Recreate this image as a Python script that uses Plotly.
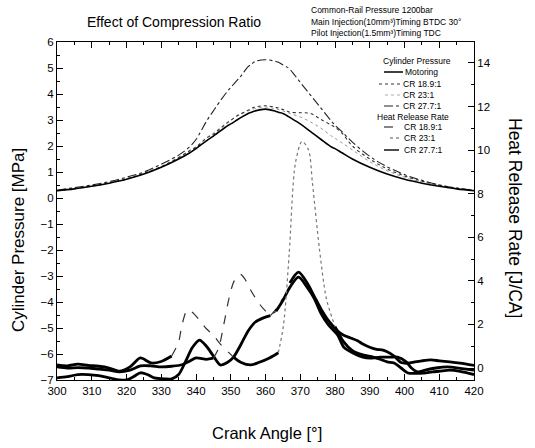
import plotly.graph_objects as go

# ---------------- data ----------------
cp_angle = [300, 305, 310, 315, 320, 325, 330, 335, 338, 340, 343, 345, 346, 349.3, 350, 352, 353, 355, 356, 357,
            360, 363, 364, 365, 366, 367, 370, 373, 376, 379, 380, 382, 385, 390, 395, 400, 405, 410, 415, 420]
cp_motoring = [0.28, 0.35, 0.45, 0.57, 0.72, 0.92, 1.18, 1.5, 1.72, 1.9, 2.2, 2.38, 2.48, 2.8, 2.85, 3.02, 3.1, 3.25, 3.3, 3.35,
               3.42, 3.33, 3.29, 3.25, 3.18, 3.1, 2.85, 2.55, 2.25, 1.96, 1.9, 1.74, 1.5, 1.18, 0.92, 0.72, 0.57, 0.45, 0.35, 0.28]
cp_cr189 = [0.28, 0.36, 0.46, 0.58, 0.73, 0.94, 1.2, 1.55, 1.8, 1.95, 2.3, 2.45, 2.56, 2.92, 2.98, 3.18, 3.25, 3.38, 3.45, 3.5,
            3.55, 3.48, 3.45, 3.4, 3.35, 3.3, 3.28, 3.25, 3.02, 2.8, 2.72, 2.5, 2.0, 1.5, 1.12, 0.85, 0.65, 0.5, 0.38, 0.3]
cp_cr231 = [0.3, 0.37, 0.47, 0.59, 0.75, 0.96, 1.22, 1.57, 1.82, 1.98, 2.32, 2.5, 2.6, 2.94, 3.0, 3.16, 3.22, 3.35, 3.4, 3.44,
            3.5, 3.42, 3.39, 3.35, 3.3, 3.25, 3.12, 2.92, 2.68, 2.38, 2.3, 2.12, 1.85, 1.4, 1.05, 0.8, 0.62, 0.48, 0.37, 0.3]
cp_cr277 = [0.3, 0.4, 0.5, 0.63, 0.8, 1.0, 1.3, 1.65, 1.95, 2.25, 2.95, 3.35, 3.55, 4.15, 4.25, 4.55, 4.7, 5.05, 5.15, 5.25,
            5.32, 5.25, 5.2, 5.12, 5.05, 4.95, 4.45, 3.95, 3.45, 2.95, 2.8, 2.55, 2.15, 1.6, 1.2, 0.9, 0.68, 0.5, 0.38, 0.3]

hrr277_angle = [300, 303, 306, 309, 312, 315, 318, 320, 322, 324, 326, 328, 331, 333, 335, 337, 339, 341, 343, 345,
                347, 349, 350.8, 353, 355, 357, 359.4, 361.4, 363, 365, 367, 369.5, 372, 374, 376, 378, 380.8, 382.5,
                384.5, 386.5, 388, 390, 392, 393.5, 395, 397, 399, 401, 403, 405, 407.6, 410, 413, 416, 420]
hrr277 = [-0.45, -0.4, -0.3, -0.3, -0.35, -0.45, -0.55, -0.55, -0.4, -0.22, -0.3, -0.45, -0.5, -0.5, -0.3, 0.3,
          0.95, 1.28, 1.0, 0.55, 0.14, 0.25, 0.5, 1.1, 1.7, 2.1, 2.3, 2.4, 2.7, 3.2, 3.9, 4.4, 3.9, 3.3, 2.7, 2.2,
          1.7, 1.5, 1.38, 1.25, 1.1, 0.95, 0.85, 0.83, 0.75, 0.55, 0.25, 0.22, 0.28, 0.33, 0.37, 0.33, 0.28, 0.22, 0.12]

hrr189_angle = [300, 303, 306, 309, 312, 315, 318, 321, 324, 327, 330, 333, 336, 338, 340, 343, 345, 346.5, 348,
                349.5, 351, 352.8, 354, 356, 358, 359.5, 361.4, 363, 365, 367, 369.5, 372, 374, 376, 378, 380.8,
                382.5, 385, 388, 390, 393, 396, 398, 400.5, 402, 403.8, 406, 409, 412.5, 416, 420]
hrr189 = [0.05, 0.0, 0.02, 0.0, -0.05, -0.1, -0.18, -0.1, 0.1, 0.1, 0.05, 0.08, 0.15, 0.3, 0.46, 0.4, 0.45, 0.9,
          2.0, 3.2, 4.0, 4.3, 4.1, 3.5, 3.0, 2.7, 2.45, 2.6, 3.1, 3.7, 4.17, 3.7, 3.2, 2.5, 2.0, 1.5, 0.96, 0.7, 0.5,
          0.45, 0.5, 0.5, 0.5, 0.28, 0.0, -0.18, -0.1, 0.0, 0.05, -0.02, -0.1]

hrr231_angle = [300, 303, 306, 309, 312, 315, 318, 321, 324, 327, 330, 333, 335, 336, 337.5, 339, 341, 343, 345,
                347, 349.3, 350.8, 353, 355.7, 358, 361, 363.7, 365.2, 366.8, 368.6, 370.5, 372.4, 373.5, 375.5,
                377.5, 380, 382.5, 385, 388, 391, 393, 395, 397, 399, 401, 403, 405.6, 408, 410, 413, 416, 420]
hrr231 = [0.14, 0.1, 0.18, 0.12, 0.08, 0.0, -0.15, 0.05, 0.46, 0.23, 0.3, 0.55, 1.2, 2.0, 2.66, 2.55, 2.2, 1.8, 1.5,
          1.1, 0.73, 0.5, 0.25, 0.14, 0.25, 0.45, 0.7, 2.0, 5.2, 9.4, 10.4, 10.0, 8.5, 5.5, 3.2, 1.9, 1.2, 0.8, 0.6,
          0.5, 0.4, 0.28, 0.23, 0.0, -0.23, -0.25, -0.23, -0.18, -0.15, -0.1, -0.15, -0.3]

x_ticks = list(range(300, 421, 10))

# ---------------- styling helpers ----------------
W, H = 535, 448
L, R, T, B = 57, 474, 42, 380
FONT = "Liberation Sans, Arial, sans-serif"


def pxx(x):
    return (x - L) / (R - L)


def pyy(y):
    return (B - y) / (B - T)


fig = go.Figure()

# cylinder pressure curves (left axis)
fig.add_trace(go.Scatter(x=cp_angle, y=cp_cr231, mode="lines", yaxis="y",
                         line=dict(color="#9a9a9a", width=1, dash="dot", shape="spline"), showlegend=False))
fig.add_trace(go.Scatter(x=cp_angle, y=cp_cr189, mode="lines", yaxis="y",
                         line=dict(color="#333", width=1.1, dash="dot", shape="spline"), showlegend=False))
fig.add_trace(go.Scatter(x=cp_angle, y=cp_cr277, mode="lines", yaxis="y",
                         line=dict(color="#222", width=1.1, dash="dashdot", shape="spline"), showlegend=False))
fig.add_trace(go.Scatter(x=cp_angle, y=cp_motoring, mode="lines", yaxis="y",
                         line=dict(color="black", width=1.6, shape="spline"), showlegend=False))


def add_hrr(angles, vals, thin_ranges):
    def inside(a):
        return any(s < a < e for s, e, _, _ in thin_ranges)
    thick_y = [None if inside(a) else v for a, v in zip(angles, vals)]
    fig.add_trace(go.Scatter(x=angles, y=thick_y, mode="lines", yaxis="y2", connectgaps=False,
                             line=dict(color="black", width=2.8, shape="spline", smoothing=0.8),
                             showlegend=False))
    for s, e, d, c in thin_ranges:
        xs = [a for a in angles if s <= a <= e]
        ys = [v for a, v in zip(angles, vals) if s <= a <= e]
        fig.add_trace(go.Scatter(x=xs, y=ys, mode="lines", yaxis="y2",
                                 line=dict(color=c, width=1.2, dash=d, shape="spline", smoothing=0.8),
                                 showlegend=False))


add_hrr(hrr277_angle, hrr277, [(361.4, 366, "dash", "#333")])
add_hrr(hrr189_angle, hrr189, [(345, 363, "dash", "#333")])
add_hrr(hrr231_angle, hrr231, [(333, 350.8, "dash", "#333"), (363.7, 380, "dot", "#777")])

# ---------------- manual legend ----------------
shapes = []
annotations = []


def leg_text(x, y, text, size=8.5):
    annotations.append(dict(x=pxx(x), y=pyy(y), xref="paper", yref="paper", text=text, showarrow=False,
                            xanchor="left", yanchor="middle", borderpad=0,
                            font=dict(family=FONT, size=size, color="black")))


def leg_line(x0, x1, y, dash, width=1.2, color="black"):
    shapes.append(dict(type="line", xref="paper", yref="paper", x0=pxx(x0), x1=pxx(x1), y0=pyy(y), y1=pyy(y),
                       line=dict(color=color, width=width, dash=dash)))


leg_text(382, 61, "Cylinder Pressure")
leg_line(384, 403, 72, "solid", 1.5)
leg_text(404, 72, "Motoring")
leg_line(379, 401, 84, "dot", 1.1, "#333")
leg_text(402, 84, "CR 18.9:1")
leg_line(385, 401, 95, "dot", 1.0, "#aaa")
leg_text(402, 95, "CR 23:1")
leg_line(384, 401, 106, "dashdot", 1.1, "#222")
leg_text(402, 106, "CR 27.7:1")
leg_text(376, 117, "Heat Release Rate")
leg_line(384, 402, 127, "dash", 1.2, "#333")
leg_text(403, 127, "CR 18.9:1")
leg_line(390, 402, 138, "dot", 1.2, "#555")
leg_text(403, 138, "CR 23:1")
leg_line(384, 402, 150, "longdash", 1.4, "black")
leg_text(403, 150, "CR 27.7:1")

# titles / notes
annotations.append(dict(x=pxx(86), y=pyy(22), xref="paper", yref="paper", text="Effect of Compression Ratio",
                        showarrow=False, xanchor="left", yanchor="middle", borderpad=0,
                        font=dict(family=FONT, size=14, color="black")))
for i, t in enumerate(["Common-Rail Pressure 1200bar",
                       "Main Injection(10mm³)Timing BTDC 30°",
                       "Pilot Injection(1.5mm³)Timing TDC"]):
    annotations.append(dict(x=pxx(310), y=pyy(10 + 11.5 * i), xref="paper", yref="paper", text=t,
                            showarrow=False, xanchor="left", yanchor="middle", borderpad=0,
                            font=dict(family=FONT, size=8.5, color="black")))
annotations.append(dict(x=pxx(18), y=pyy(240), xref="paper", yref="paper", text="Cylinder Pressure [MPa]",
                        showarrow=False, textangle=-90, xanchor="center", yanchor="middle",
                        font=dict(family=FONT, size=17, color="black")))
annotations.append(dict(x=pxx(515), y=pyy(218), xref="paper", yref="paper", text="Heat Release Rate [J/CA]",
                        showarrow=False, textangle=90, xanchor="center", yanchor="middle",
                        font=dict(family=FONT, size=17.5, color="black")))
annotations.append(dict(x=pxx(267), y=pyy(433), xref="paper", yref="paper", text="Crank Angle [°]",
                        showarrow=False, xanchor="center", yanchor="middle",
                        font=dict(family=FONT, size=16.5, color="black")))

axis_common = dict(showline=True, linecolor="black", linewidth=1, ticks="inside", tickcolor="black",
                   showgrid=False, zeroline=False, automargin=False,
                   tickfont=dict(family=FONT, size=11.5, color="black"))

fig.update_layout(
    width=W, height=H,
    margin=dict(l=L, r=W - R, t=T, b=H - B),
    paper_bgcolor="white", plot_bgcolor="white",
    showlegend=False,
    font=dict(family=FONT, color="black"),
    xaxis=dict(range=[300, 420], tickvals=x_ticks, ticklen=6, mirror="ticks",
               minor=dict(ticks="inside", dtick=5, ticklen=3, tickcolor="black"),
               **axis_common),
    yaxis=dict(range=[-7, 6], dtick=1, ticklen=6,
               minor=dict(ticks="inside", dtick=0.5, ticklen=3, tickcolor="black"),
               **axis_common),
    yaxis2=dict(range=[-0.551, 14.963], overlaying="y", side="right", tickvals=list(range(0, 15, 2)), ticklen=6,
                minor=dict(ticks="inside", dtick=1, ticklen=3, tickcolor="black"),
                **axis_common),
    shapes=shapes,
    annotations=annotations,
)

fig.write_html("out.html", config={"displayModeBar": False},
               post_script="document.body.style.margin='0px';")
